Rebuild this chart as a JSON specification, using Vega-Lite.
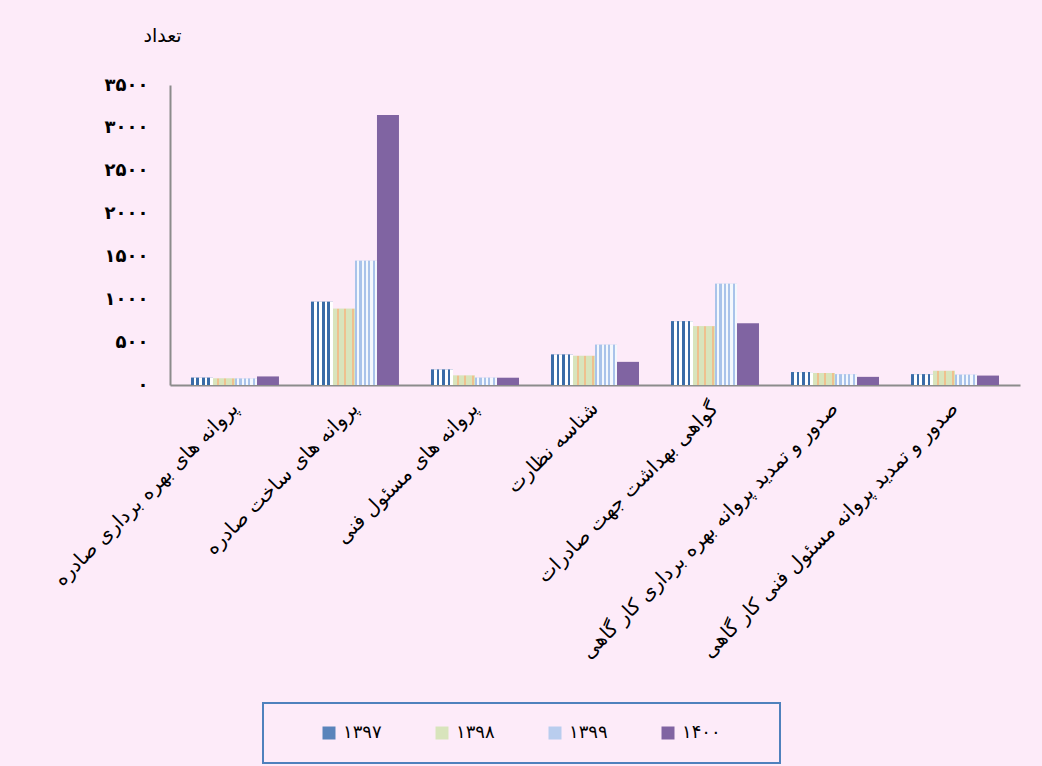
{
  "$schema": "https://vega.github.io/schema/vega-lite/v6.json",
  "width": 850,
  "height": 300,
  "autosize": {"type": "none"},
  "padding": {"left": 170, "top": 85, "right": 22, "bottom": 381},
  "background": "#FDEBF9",
  "data": {
    "values": [
      {"category": "پروانه های بهره برداری صادره", "year": "۱۳۹۷", "count": 85},
      {"category": "پروانه های بهره برداری صادره", "year": "۱۳۹۸", "count": 75},
      {"category": "پروانه های بهره برداری صادره", "year": "۱۳۹۹", "count": 75},
      {"category": "پروانه های بهره برداری صادره", "year": "۱۴۰۰", "count": 100},
      {"category": "پروانه های ساخت صادره", "year": "۱۳۹۷", "count": 970},
      {"category": "پروانه های ساخت صادره", "year": "۱۳۹۸", "count": 890},
      {"category": "پروانه های ساخت صادره", "year": "۱۳۹۹", "count": 1450},
      {"category": "پروانه های ساخت صادره", "year": "۱۴۰۰", "count": 3150},
      {"category": "پروانه های مسئول فنی", "year": "۱۳۹۷", "count": 180},
      {"category": "پروانه های مسئول فنی", "year": "۱۳۹۸", "count": 110},
      {"category": "پروانه های مسئول فنی", "year": "۱۳۹۹", "count": 85},
      {"category": "پروانه های مسئول فنی", "year": "۱۴۰۰", "count": 85},
      {"category": "شناسه نظارت", "year": "۱۳۹۷", "count": 355},
      {"category": "شناسه نظارت", "year": "۱۳۹۸", "count": 340},
      {"category": "شناسه نظارت", "year": "۱۳۹۹", "count": 470},
      {"category": "شناسه نظارت", "year": "۱۴۰۰", "count": 270},
      {"category": "گواهی بهداشت جهت صادرات", "year": "۱۳۹۷", "count": 745},
      {"category": "گواهی بهداشت جهت صادرات", "year": "۱۳۹۸", "count": 685},
      {"category": "گواهی بهداشت جهت صادرات", "year": "۱۳۹۹", "count": 1180},
      {"category": "گواهی بهداشت جهت صادرات", "year": "۱۴۰۰", "count": 720},
      {"category": "صدور و تمدید پروانه بهره برداری کار گاهی", "year": "۱۳۹۷", "count": 150},
      {"category": "صدور و تمدید پروانه بهره برداری کار گاهی", "year": "۱۳۹۸", "count": 140},
      {"category": "صدور و تمدید پروانه بهره برداری کار گاهی", "year": "۱۳۹۹", "count": 125},
      {"category": "صدور و تمدید پروانه بهره برداری کار گاهی", "year": "۱۴۰۰", "count": 95},
      {"category": "صدور و تمدید پروانه مسئول فنی کار گاهی", "year": "۱۳۹۷", "count": 125},
      {"category": "صدور و تمدید پروانه مسئول فنی کار گاهی", "year": "۱۳۹۸", "count": 165},
      {"category": "صدور و تمدید پروانه مسئول فنی کار گاهی", "year": "۱۳۹۹", "count": 120},
      {"category": "صدور و تمدید پروانه مسئول فنی کار گاهی", "year": "۱۴۰۰", "count": 110}
    ]
  },
  "encoding": {
    "x": {
      "field": "category",
      "type": "nominal",
      "sort": null,
      "scale": {"paddingInner": 0.267, "paddingOuter": 0.175},
      "axis": {
        "title": null,
        "labelAngle": -45,
        "labelAlign": "right",
        "labelBaseline": "middle",
        "labelFont": "DejaVu Sans",
        "labelFontSize": 20,
        "labelColor": "#000000",
        "labelPadding": 20,
        "labelLimit": 600,
        "labelOverlap": false,
        "ticks": false,
        "domainColor": "#8c8c8c",
        "domainWidth": 2
      }
    },
    "xOffset": {"field": "year", "type": "nominal", "sort": ["۱۳۹۷", "۱۳۹۸", "۱۳۹۹", "۱۴۰۰"]},
    "y": {
      "field": "count",
      "type": "quantitative",
      "stack": null,
      "scale": {"domain": [0, 3500]},
      "axis": {
        "values": [0, 500, 1000, 1500, 2000, 2500, 3000, 3500],
        "labelExpr": "replace(replace(replace(replace(replace(format(datum.value,'d'),regexp('0','g'),'۰'),regexp('1','g'),'۱'),regexp('2','g'),'۲'),regexp('3','g'),'۳'),regexp('5','g'),'۵')",
        "grid": false,
        "ticks": false,
        "labelFont": "DejaVu Sans",
        "labelFontWeight": "bold",
        "labelFontSize": 18,
        "labelColor": "#000000",
        "labelPadding": 22,
        "domainColor": "#8c8c8c",
        "domainWidth": 2,
        "title": "تعداد",
        "titleAngle": 0,
        "titleX": -8,
        "titleY": -50,
        "titleAlign": "center",
        "titleBaseline": "middle",
        "titleFont": "DejaVu Sans",
        "titleFontSize": 19,
        "titleFontWeight": "normal",
        "titleColor": "#000000"
      }
    }
  },
  "layer": [
    {
      "mark": {"type": "bar"},
      "encoding": {
        "color": {
          "field": "year",
          "type": "nominal",
          "scale": {
            "domain": ["۱۳۹۷", "۱۳۹۸", "۱۳۹۹", "۱۴۰۰"],
            "range": ["#5a84bb", "#d8e4bc", "#b9cdee", "#8064a2"]
          },
          "legend": {
            "orient": "none",
            "legendX": 93,
            "legendY": 618,
            "direction": "horizontal",
            "columns": 4,
            "title": "\u00a0",
            "titleOrient": "right",
            "titlePadding": 38,
            "padding": 21,
            "strokeColor": "#4f81bd",
            "fillColor": "#FDEBF9",
            "symbolType": "square",
            "symbolSize": 169,
            "symbolOffset": 36,
            "labelFont": "DejaVu Sans",
            "labelFontSize": 18,
            "labelColor": "#000000",
            "labelOffset": 5,
            "columnPadding": 15,
            "encode": {
              "legend": {"update": {"strokeWidth": {"value": 2}}}
            }
          }
        }
      }
    },
    {
      "transform": [{"filter": "datum.year === '۱۳۹۷'"}],
      "mark": {
        "type": "bar",
        "fill": {"gradient": "linear", "x1": 0, "y1": 0, "x2": 1, "y2": 0, "stops": [
          {"offset": 0, "color": "#3a6ca8"}, {"offset": 0.125, "color": "#3a6ca8"},
          {"offset": 0.125, "color": "#ffffff"}, {"offset": 0.25, "color": "#ffffff"},
          {"offset": 0.25, "color": "#3a6ca8"}, {"offset": 0.375, "color": "#3a6ca8"},
          {"offset": 0.375, "color": "#ffffff"}, {"offset": 0.5, "color": "#ffffff"},
          {"offset": 0.5, "color": "#3a6ca8"}, {"offset": 0.625, "color": "#3a6ca8"},
          {"offset": 0.625, "color": "#ffffff"}, {"offset": 0.75, "color": "#ffffff"},
          {"offset": 0.75, "color": "#3a6ca8"}, {"offset": 0.875, "color": "#3a6ca8"},
          {"offset": 0.875, "color": "#ffffff"}, {"offset": 1, "color": "#ffffff"}
        ]}
      }
    },
    {
      "transform": [{"filter": "datum.year === '۱۳۹۸'"}],
      "mark": {
        "type": "bar",
        "fill": {"gradient": "linear", "x1": 0, "y1": 0, "x2": 1, "y2": 0, "stops": [
          {"offset": 0, "color": "#d8e4bc"}, {"offset": 0.18, "color": "#d8e4bc"},
          {"offset": 0.18, "color": "#efc08e"}, {"offset": 0.26, "color": "#efc08e"},
          {"offset": 0.26, "color": "#d8e4bc"}, {"offset": 0.52, "color": "#d8e4bc"},
          {"offset": 0.52, "color": "#efc08e"}, {"offset": 0.6, "color": "#efc08e"},
          {"offset": 0.6, "color": "#d8e4bc"}, {"offset": 0.86, "color": "#d8e4bc"},
          {"offset": 0.86, "color": "#efc08e"}, {"offset": 0.94, "color": "#efc08e"},
          {"offset": 0.94, "color": "#d8e4bc"}, {"offset": 1, "color": "#d8e4bc"}
        ]}
      }
    },
    {
      "transform": [{"filter": "datum.year === '۱۳۹۹'"}],
      "mark": {
        "type": "bar",
        "fill": {"gradient": "linear", "x1": 0, "y1": 0, "x2": 1, "y2": 0, "stops": [
          {"offset": 0, "color": "#a9c3ea"}, {"offset": 0.1, "color": "#a9c3ea"},
          {"offset": 0.1, "color": "#f4f8fd"}, {"offset": 0.2, "color": "#f4f8fd"},
          {"offset": 0.2, "color": "#a9c3ea"}, {"offset": 0.3, "color": "#a9c3ea"},
          {"offset": 0.3, "color": "#f4f8fd"}, {"offset": 0.4, "color": "#f4f8fd"},
          {"offset": 0.4, "color": "#a9c3ea"}, {"offset": 0.5, "color": "#a9c3ea"},
          {"offset": 0.5, "color": "#f4f8fd"}, {"offset": 0.6, "color": "#f4f8fd"},
          {"offset": 0.6, "color": "#a9c3ea"}, {"offset": 0.7, "color": "#a9c3ea"},
          {"offset": 0.7, "color": "#f4f8fd"}, {"offset": 0.8, "color": "#f4f8fd"},
          {"offset": 0.8, "color": "#a9c3ea"}, {"offset": 0.9, "color": "#a9c3ea"},
          {"offset": 0.9, "color": "#f4f8fd"}, {"offset": 1, "color": "#f4f8fd"}
        ]}
      }
    }
  ],
  "config": {
    "view": {"stroke": null}
  }
}
